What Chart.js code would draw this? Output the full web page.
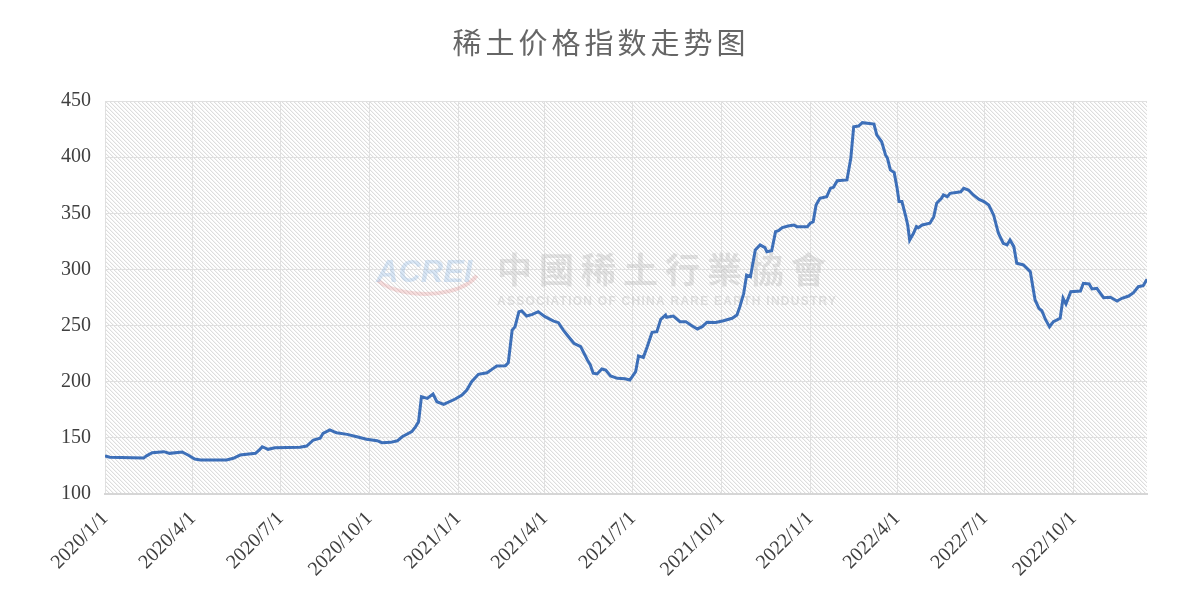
<!DOCTYPE html>
<html>
<head>
<meta charset="utf-8">
<script src="https://cdn.jsdelivr.net/npm/chart.js@4/dist/chart.umd.min.js"></script>
<style>
  html, body { margin: 0; background: #fff; }
  #wrap { width: 1200px; height: 600px; }
</style>
</head>
<body>
<div id="wrap"><canvas id="graph1"></canvas></div>
<script>
const titre = '稀土价格指数走势图';
const debut = Date.UTC(2020, 0, 1);

// days since 2020/1/1 and index value
const jours = [
  0, 5, 40, 43, 49, 61, 67, 80, 86, 93, 99, 126, 133, 140, 156, 160, 163, 169, 176, 202,
  209, 216, 223, 226, 233, 237, 240, 251, 261, 271, 282, 287, 296, 303, 308, 318, 322, 325, 328, 334,
  340, 344, 351, 363, 370, 375, 380, 387, 396, 401, 406, 415, 418, 422, 425, 429, 432, 437, 443, 449,
  456, 465, 470, 475, 479, 486, 493, 500, 503, 506, 510, 515, 519, 524, 531, 539, 544, 550, 553, 558,
  562, 567, 572, 576, 581, 582, 589, 596, 602, 607, 614, 619, 624, 633, 641, 650, 655, 658, 662, 665,
  669, 674, 679, 684, 686, 691, 695, 698, 702, 708, 714, 717, 728, 731, 734, 737, 741, 748, 752, 755,
  759, 769, 773, 776, 781, 785, 797, 800, 805, 809, 811, 814, 818, 821, 823, 826, 830, 832, 834, 838,
  841, 843, 847, 855, 859, 862, 867, 869, 873, 876, 887, 890, 895, 900, 906, 911, 916, 921, 926, 931,
  935, 938, 942, 945, 952, 959, 964, 968, 971, 975, 979, 983, 990, 993, 996, 1001, 1011, 1014, 1020, 1023,
  1028, 1035, 1042, 1049, 1054, 1061, 1066, 1071, 1076, 1080
];
const indice = [
  134, 132.7, 132, 134, 136.8, 137.7, 136.2, 137.4, 134.7, 131.2, 130.3, 130.3, 131.8, 134.7, 136.2, 139.2, 142.1, 139.8, 141.2, 141.6,
  142.7, 148.1, 149.6, 154, 157, 155.5, 154.6, 153.1, 151, 148.7, 147.5, 145.7, 146, 147.4, 151, 155.5, 160, 164.4, 186.7, 185.2,
  189, 182.2, 179.9, 184.6, 188.2, 192.6, 200, 206.6, 208, 211, 214, 214.3, 216.9, 246, 249, 262.4, 263, 258.5, 260, 262.4,
  257.9, 254, 252.6, 246, 241.6, 234.2, 231.2, 219.3, 214.9, 207.5, 206.9, 211.3, 210.4, 205.1, 203, 202.7, 201.5, 208.9, 222.9, 221.7,
  231.2, 244, 244.5, 255.6, 259.4, 257.4, 258.5, 253.5, 253.5, 250.5, 247, 249, 253, 252.8, 254.3, 256.5, 259.4, 266.8, 278.7, 295,
  293.5, 317.3, 321.8, 319.4, 315.8, 316.7, 333.6, 334.5, 337.2, 338.7, 339.6, 338.1, 338.1, 341.1, 342.5, 357.4, 363.3, 364.8, 372.3, 373.1,
  379, 379.7, 399, 427.1, 427.7, 430.7, 429.5, 419.7, 413.7, 401.9, 399, 388.6, 386.2, 372.3, 360.4, 360.4, 347, 339.6, 326.2, 332.2,
  338.1, 337.2, 339.6, 341.1, 347, 358.9, 363.3, 366.3, 364.8, 367.8, 369.2, 372.3, 370.7, 366.3, 362.4, 360.4, 357.4, 348.5, 332.2, 323.3,
  321.8, 326.2, 320.3, 305.5, 304, 298.1, 272.8, 265.4, 263.2, 255, 249, 253.5, 256.5, 274.3, 269.2, 280.2, 280.8, 287.6, 287, 282.6,
  283.2, 274.8, 275.2, 271.9, 274.3, 276.3, 279.3, 284.6, 285.5, 291.2
];

// quarter starts shown on the x axis (days since 2020/1/1)
const tickJours = [0, 91, 182, 274, 366, 456, 547, 639, 731, 821, 912, 1004];
const finJours = 1080;
const yTicks = [100, 150, 200, 250, 300, 350, 400, 450];

function dateLabel(j) {
  const d = new Date(debut + j * 86400000);
  return d.getUTCFullYear() + '/' + (d.getUTCMonth() + 1) + '/' + d.getUTCDate();
}

// small tile for the hatched plot background
const tuile = document.createElement('canvas');
tuile.width = 4; tuile.height = 4;
const tg = tuile.getContext('2d');
tg.fillStyle = '#ffffff';
tg.fillRect(0, 0, 4, 4);
for (let i = 0; i < 4; i++) {
  tg.fillStyle = '#dddddd';
  tg.fillRect(i, i, 1, 1);
  tg.fillStyle = '#f4f4f4';
  tg.fillRect((i + 1) % 4, i, 1, 1);
}

const decor = {
  id: 'decor',
  beforeDraw(chart) {
    const { ctx, chartArea: a } = chart;
    ctx.save();
    ctx.fillStyle = ctx.createPattern(tuile, 'repeat');
    ctx.fillRect(a.left, a.top, a.right - a.left, a.bottom - a.top);

    // title
    ctx.fillStyle = '#666666';
    ctx.font = '29px "Noto Sans CJK SC"';
    ctx.letterSpacing = '4px';
    ctx.textAlign = 'center';
    ctx.textBaseline = 'middle';
    ctx.fillText(titre, 601, 43);
    ctx.restore();
  },
  beforeDatasetsDraw(chart) {
    const { ctx, chartArea: a } = chart;
    const x0 = a.left;
    ctx.save();
    // logo swoosh
    ctx.strokeStyle = 'rgba(225, 120, 120, 0.25)';
    ctx.lineWidth = 4;
    ctx.beginPath();
    ctx.ellipse(x0 + 320, 266, 55, 28, 0, 0.35, 2.6);
    ctx.stroke();
    // ACREI letters
    ctx.fillStyle = 'rgba(130, 175, 225, 0.3)';
    ctx.font = 'italic bold 31px "Liberation Sans"';
    ctx.textAlign = 'left';
    ctx.textBaseline = 'alphabetic';
    ctx.fillText('ACREI', x0 + 271, 282);
    // Chinese name
    ctx.fillStyle = 'rgba(175, 175, 175, 0.33)';
    ctx.font = 'bold 35px "Noto Sans CJK TC"';
    ctx.letterSpacing = '7px';
    ctx.textBaseline = 'middle';
    ctx.fillText('中國稀土行業協會', x0 + 392, 270);
    // English name
    const en = 'ASSOCIATION OF CHINA RARE EARTH INDUSTRY';
    ctx.font = 'bold 12px "Liberation Sans"';
    ctx.letterSpacing = '0px';
    const w = ctx.measureText(en).width;
    ctx.letterSpacing = ((339 - w) / (en.length - 1)) + 'px';
    ctx.fillText(en, x0 + 392, 302);
    ctx.restore();
  }
};

const data = {
  datasets: [{
    label: '稀土价格指数',
    data: jours.map((j, i) => ({ x: j, y: indice[i] })),
    borderColor: '#3d6fb8',
    backgroundColor: '#3d6fb8',
    borderWidth: 3,
    pointRadius: 0,
    tension: 0,
    fill: false
  }]
};

const tickFont = { family: '"Liberation Serif", "Times New Roman", serif', size: 20 };

const config = {
  type: 'line',
  data: data,
  options: {
    responsive: true,
    maintainAspectRatio: false,
    animation: false,
    layout: { padding: { top: 101, right: 53, bottom: 0, left: 0 } },
    plugins: {
      legend: { display: false },
      tooltip: { enabled: false },
      title: { display: false }
    },
    scales: {
      x: {
        type: 'linear',
        min: 0,
        max: finJours,
        afterBuildTicks(scale) {
          scale.ticks = tickJours.map(v => ({ value: v }));
        },
        afterFit(scale) { scale.height = 106; },
        ticks: {
          autoSkip: false,
          minRotation: 45,
          maxRotation: 45,
          padding: 13,
          color: '#404040',
          font: tickFont,
          callback: v => dateLabel(v)
        },
        grid: { color: '#e0e0e0', lineWidth: 1, drawTicks: false },
        border: { color: '#d6d6d6', width: 2 }
      },
      y: {
        min: 100,
        max: 450,
        afterBuildTicks(scale) {
          scale.ticks = yTicks.map(v => ({ value: v }));
        },
        afterFit(scale) { scale.width = 105; },
        ticks: {
          padding: 14,
          color: '#404040',
          font: tickFont
        },
        grid: { color: '#e0e0e0', lineWidth: 1, drawTicks: false },
        border: { display: false }
      }
    }
  },
  plugins: [decor]
};

new Chart(document.querySelector('#graph1'), config);
</script>
</body>
</html>
